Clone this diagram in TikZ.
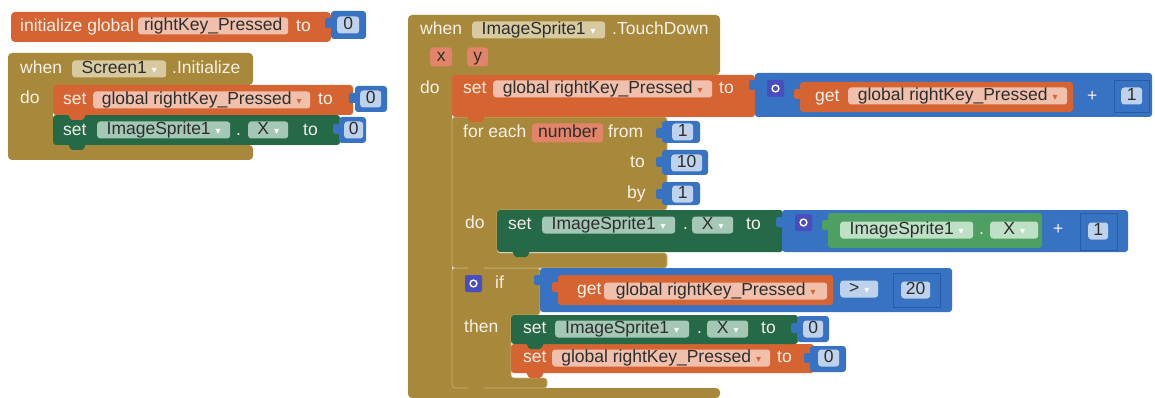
\documentclass[tikz,border=0pt]{standalone}
\usepackage{fontspec}
\setmainfont{Liberation Sans}
\newfontfamily\symfont{DejaVu Sans}
\usepackage{xcolor}
\usepackage{tikz}
\definecolor{ctrlgold}{RGB}{168,136,58}
\definecolor{goldline}{RGB}{200,180,125}
\definecolor{varorange}{RGB}{214,100,50}
\definecolor{varlight}{RGB}{240,192,172}
\definecolor{compgreen}{RGB}{38,105,70}
\definecolor{complight}{RGB}{165,200,182}
\definecolor{getgreen}{RGB}{78,160,98}
\definecolor{getlight}{RGB}{190,225,198}
\definecolor{mathblue}{RGB}{56,114,194}
\definecolor{numlight}{RGB}{190,210,236}
\definecolor{slotc}{RGB}{38,92,165}
\definecolor{gearc}{RGB}{72,78,190}
\definecolor{parmc}{RGB}{226,132,106}
\definecolor{evlight}{RGB}{216,202,160}
\definecolor{lblc}{RGB}{246,240,232}
\definecolor{fldtxt}{RGB}{45,45,45}

% value block with its output tab on the left
\newcommand{\valblock}[5]{%
  \fill[#1, rounded corners=3pt] (#2,#3) rectangle (#4,#5);
  \fill[#1, rounded corners=1.5pt] (#2-6,#3+7) rectangle (#2+2,#3+17);
}
% statement block with its bump below
\newcommand{\stmtblock}[5]{%
  \fill[#1, rounded corners=3pt] (#2,#3) rectangle (#4,#5);
  \fill[#1, rounded corners=1.5pt] (#2+15,#5-1) -- (#2+18,#5+5) -- (#2+30,#5+5) -- (#2+33,#5-1) -- cycle;
}
\newcommand{\gearicon}[2]{%
  \fill[gearc, rounded corners=2pt] (#1,#2) rectangle (#1+17,#2+17);
  \draw[white, line width=1.4pt] (#1+8.5,#2+8.5) circle (3.4pt);
}
\newcommand{\dd}[1]{\hspace{5pt}{\symfont\fontsize{10}{10}\selectfont\textcolor{#1}{▾}}}

\begin{document}
\begin{tikzpicture}[
  x=1pt, y=-1pt,
  lbl/.style  = {anchor=west, inner sep=0pt, text=lblc, font=\fontsize{17.5}{19}\selectfont,
                 text height=12.5pt, text depth=3.5pt},
  fld/.style  = {anchor=west, inner sep=0pt, rounded corners=3pt, minimum height=17pt,
                 text=fldtxt, font=\fontsize{17.5}{19}\selectfont, text height=12.5pt, text depth=3.5pt},
  ofld/.style = {fld, fill=varlight},
  gfld/.style = {fld, fill=complight},
  lgfld/.style = {fld, fill=getlight},
  efld/.style = {fld, fill=evlight},
  pfld/.style = {fld, fill=parmc, minimum height=19pt},
  nfld/.style = {fld, fill=numlight},
  slot/.style = {draw=slotc, line width=0.8pt},
]
\useasboundingbox (0,0) rectangle (1155,398);
\fill[white] (0,0) rectangle (1155,398);

%% initialize global
\fill[varorange, rounded corners=4pt] (11,12) rectangle (331,42);
\node[lbl] (ini) at (20,27) {initialize global};
\node[ofld, minimum width=150] (ininame) at (138,26) {rightKey\_Pressed};
\node[lbl] (inito) at (296,27) {to};
\valblock{mathblue}{331}{11}{366}{39}
\node[nfld, minimum width=22] (ininum) at (337,25) {0};

%% when Screen1.Initialize
\fill[ctrlgold, rounded corners=4pt] (8,53) -- (253,53) -- (253,85) -- (53,85) -- (53,145)
  -- (253,145) -- (253,160) -- (8,160) -- cycle;
\node[lbl] (scwhen) at (20,69) {when};
\node[efld, minimum width=94] (scname) at (72,69) {Screen1\dd{white}};
\node[lbl] (scevt) at (172,69) {.Initialize};
\node[lbl] (scdo) at (20,99) {do};

\stmtblock{compgreen}{53}{115}{340}{145}
\node[lbl] (scset2) at (63,131) {set};
\node[gfld, minimum width=133] (scspr) at (97,130) {ImageSprite1\dd{white}};
\node[lbl] (scdot) at (236,131) {.};
\node[gfld, minimum width=40] (scx) at (248,130) {X\dd{white}};
\node[lbl] (scto2) at (303,131) {to};

\stmtblock{varorange}{53}{85}{353}{115}
\node[lbl] (scset1) at (63,100) {set};
\node[ofld, minimum width=217] (scvar) at (93,100) {global rightKey\_Pressed\dd{varorange}};
\node[lbl] (scto1) at (318,100) {to};

\valblock{mathblue}{339}{117}{366}{143}
\node[nfld, minimum width=19] (scnum2) at (344,130) {0};
\valblock{mathblue}{355}{86}{387}{112}
\node[nfld, minimum width=21] (scnum1) at (360,99) {0};

%% when ImageSprite1.TouchDown
\fill[ctrlgold, rounded corners=4pt] (408,15) -- (720,15) -- (720,75) -- (452,75) -- (452,388)
  -- (720,388) -- (720,398) -- (408,398) -- cycle;
\node[lbl] (tdwhen) at (420,30) {when};
\node[efld, minimum width=133] (tdname) at (472,30) {ImageSprite1\dd{white}};
\node[lbl] (tdevt) at (612,30) {.TouchDown};
\node[pfld, minimum width=22] (tdx) at (430,57) {x};
\node[pfld, minimum width=21] (tdy) at (467,57) {y};
\node[lbl] (tddo) at (420,89) {do};

% if block
\fill[ctrlgold, draw=goldline, line width=0.6pt, rounded corners=3pt] (452,268) -- (540,268) -- (540,315)
  -- (511,315) -- (511,378) -- (547,378) -- (547,388) -- (452,388) -- cycle;
\fill[ctrlgold, rounded corners=1.5pt] (467,387) -- (470,393) -- (482,393) -- (485,387) -- cycle;
\gearicon{465}{275}
\node[lbl] (ifif) at (495,284) {if};
\node[lbl] (ifthen) at (464,328) {then};

% for each block
\fill[ctrlgold, draw=goldline, line width=0.6pt, rounded corners=3pt] (452,117) -- (667,117) -- (667,210)
  -- (497,210) -- (497,253) -- (667,253) -- (667,268) -- (452,268) -- cycle;
\fill[ctrlgold, rounded corners=1.5pt] (467,267) -- (470,273) -- (482,273) -- (485,267) -- cycle;
\node[lbl] (fefor) at (463,133) {for each};
\node[pfld, minimum width=71] (fevar) at (532,133) {number};
\node[lbl] (fefrom) at (608,133) {from};
\node[lbl] (feto) at (630,163) {to};
\node[lbl] (feby) at (627,194) {by};
\node[lbl] (fedo) at (465,224) {do};
\valblock{mathblue}{662}{121}{700}{143}
\node[nfld, minimum width=21] (fenum1) at (672,132) {1};
\valblock{mathblue}{662}{150}{708}{175}
\node[nfld, minimum width=31] (fenum2) at (671,163) {10};
\valblock{mathblue}{662}{182}{700}{205}
\node[nfld, minimum width=21] (fenum3) at (672,194) {1};

% set global (top of the stack)
\stmtblock{varorange}{452}{75}{755}{117}
\node[lbl] (tdset) at (463,89) {set};
\node[ofld, minimum width=219] (tdvar) at (493,89) {global rightKey\_Pressed\dd{varorange}};
\node[lbl] (tdto) at (719,89) {to};
\valblock{mathblue}{755}{73}{1152}{117}
\gearicon{767}{80}
\valblock{varorange}{800}{82}{1073}{112}
\node[lbl] (tdget) at (815,97) {get};
\node[ofld, minimum width=219] (tdgvar) at (848,96) {global rightKey\_Pressed\dd{varorange}};
\node[lbl] (tdplus) at (1087,97) {+};
\draw[slot] (1114,80) rectangle (1149,112);
\node[nfld, minimum width=21] (tdone) at (1121,96) {1};

% set ImageSprite1.X inside for each
\stmtblock{compgreen}{497}{210}{783}{252}
\node[lbl] (feset) at (508,225) {set};
\node[gfld, minimum width=133] (fespr) at (542,225) {ImageSprite1\dd{white}};
\node[lbl] (fedot) at (683,225) {.};
\node[gfld, minimum width=41] (fex) at (692,225) {X\dd{white}};
\node[lbl] (feto2) at (746,225) {to};
\valblock{mathblue}{782}{210}{1128}{252}
\gearicon{795}{214}
\valblock{getgreen}{828}{213}{1042}{248}
\node[lgfld, minimum width=133] (fegspr) at (840,230) {ImageSprite1\dd{white}};
\node[lbl] (fegdot) at (979,230) {.};
\node[lgfld, minimum width=48] (fegx) at (990,230) {X\dd{white}};
\node[lbl] (feplus) at (1053,230) {+};
\draw[slot] (1080,213) rectangle (1117,250);
\node[nfld, minimum width=20] (feone) at (1088,231) {1};

% if condition
\valblock{mathblue}{540}{268}{952}{312}
\valblock{varorange}{558}{275}{833}{305}
\node[lbl] (ifget) at (577,290) {get};
\node[ofld, minimum width=223] (ifvar) at (604,291) {global rightKey\_Pressed\dd{varorange}};
\node[nfld, minimum width=38] (ifop) at (840,289) {>\dd{white}};
\draw[slot] (893,273) rectangle (940,307);
\node[nfld, minimum width=29] (ifnum) at (901,290) {20};

% then stack
\stmtblock{varorange}{511}{344}{814}{373}
\node[lbl] (thset2) at (523,358) {set};
\node[ofld, minimum width=218] (thvar) at (552,358) {global rightKey\_Pressed\dd{varorange}};
\node[lbl] (thto2) at (777,358) {to};
\stmtblock{compgreen}{511}{315}{798}{344}
\node[lbl] (thset1) at (523,329) {set};
\node[gfld, minimum width=134] (thspr) at (555,329) {ImageSprite1\dd{white}};
\node[lbl] (thdot) at (697,329) {.};
\node[gfld, minimum width=41] (thx) at (707,329) {X\dd{white}};
\node[lbl] (thto1) at (761,329) {to};
\valblock{mathblue}{810}{346}{846}{372}
\node[nfld, minimum width=21] (thnum2) at (818,358) {0};
\valblock{mathblue}{797}{316}{829}{342}
\node[nfld, minimum width=20] (thnum1) at (803,329) {0};

\end{tikzpicture}
\end{document}
